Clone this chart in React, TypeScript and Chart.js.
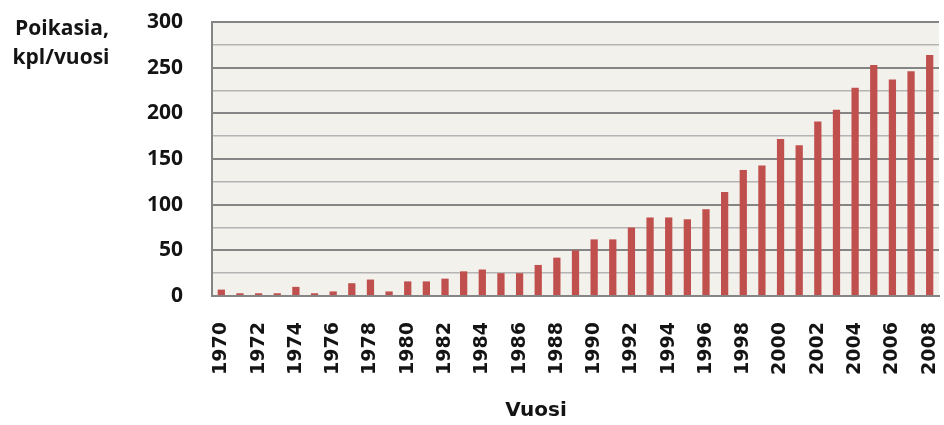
import React, { useEffect, useRef } from "react";
import { Chart, registerables } from "chart.js";

Chart.register(...registerables);

const years: string[] = [
  "1970", "1971", "1972", "1973", "1974", "1975", "1976", "1977", "1978", "1979",
  "1980", "1981", "1982", "1983", "1984", "1985", "1986", "1987", "1988", "1989",
  "1990", "1991", "1992", "1993", "1994", "1995", "1996", "1997", "1998", "1999",
  "2000", "2001", "2002", "2003", "2004", "2005", "2006", "2007", "2008",
];

const poikasia: number[] = [
  7, 3, 3, 3, 10, 3, 5, 14, 18, 5,
  16, 16, 19, 27, 29, 25, 25, 34, 42, 50,
  62, 62, 75, 86, 86, 84, 95, 114, 138, 143,
  172, 165, 191, 204, 228, 253, 237, 246, 264,
];

const yTitleLines: string[] = ["Poikasia,", "kpl/vuosi"];
const xTitle = "Vuosi";

const BAR_COLOR = "#C0504D";
const PLOT_BG = "#F3F1EC";
const MAJOR_GRID = "#858585";
const MINOR_GRID = "#b4b4b4";
const TEXT = "#141414";

export default function App() {
  const ref = useRef<HTMLCanvasElement | null>(null);

  useEffect(() => {
    if (!ref.current) return;

    const bgPlugin = {
      id: "plotBg",
      beforeDraw(chart: any) {
        const { ctx, chartArea } = chart;
        ctx.save();
        ctx.fillStyle = PLOT_BG;
        ctx.fillRect(
          chartArea.left,
          chartArea.top,
          chartArea.right - chartArea.left,
          chartArea.bottom - chartArea.top
        );
        ctx.restore();
      },
    };

    const titlesPlugin = {
      id: "titles",
      afterDraw(chart: any) {
        const { ctx } = chart;
        ctx.save();
        ctx.fillStyle = TEXT;
        ctx.textAlign = "center";
        ctx.textBaseline = "alphabetic";
        ctx.font = "bold 21px 'Open Sans'";
        ctx.fillText(yTitleLines[0], 62, 35);
        ctx.fillText(yTitleLines[1], 61, 64);
        ctx.font = "bold 20px 'DejaVu Sans'";
        ctx.textBaseline = "middle";
        ctx.fillText(xTitle, 536, 411);
        ctx.restore();
      },
    };

    const chart = new Chart(ref.current, {
      type: "bar",
      data: {
        labels: years,
        datasets: [
          {
            data: poikasia,
            backgroundColor: BAR_COLOR,
            borderWidth: 0,
            categoryPercentage: 1,
            barPercentage: 0.39,
          },
        ],
      },
      options: {
        animation: false,
        responsive: false,
        devicePixelRatio: 1,
        layout: { padding: { left: 0, right: 5, top: 22, bottom: 0 } },
        plugins: {
          legend: { display: false },
          tooltip: { enabled: false },
          title: { display: false },
        },
        scales: {
          x: {
            grid: { display: false, drawTicks: false },
            border: { display: true, color: MAJOR_GRID, width: 2 },
            ticks: {
              autoSkip: false,
              minRotation: 90,
              maxRotation: 90,
              padding: 26,
              color: TEXT,
              font: { family: "'DejaVu Sans'", weight: "bold", size: 19 },
              callback: (_v: any, i: number) => (i % 2 === 0 ? years[i] : ""),
            },
            afterFit: (scale: any) => {
              scale.height = 129;
              scale.paddingLeft = 0;
              scale.paddingRight = 0;
            },
          },
          y: {
            min: 0,
            max: 300,
            grid: {
              drawTicks: false,
              lineWidth: (c: any) => (c.tick && c.tick.value % 50 === 0 ? 2 : 1.5),
              color: (c: any) =>
                c.tick && c.tick.value % 50 === 0 ? MAJOR_GRID : MINOR_GRID,
            },
            border: { display: true, color: MAJOR_GRID, width: 2 },
            ticks: {
              stepSize: 25,
              autoSkip: false,
              maxTicksLimit: 20,
              padding: 29,
              color: TEXT,
              font: { family: "'Open Sans'", weight: "bold", size: 21, lineHeight: 1 },
              callback: (v: any) => (Number(v) % 50 === 0 ? String(v) : ""),
            },
            afterFit: (scale: any) => {
              scale.width = 212;
              scale.paddingTop = 0;
              scale.paddingBottom = 0;
            },
          },
        },
      },
      plugins: [bgPlugin, titlesPlugin],
    });

    return () => chart.destroy();
  }, []);

  return (
    <div style={{ position: "absolute", left: 0, top: 0, width: 944, height: 425, background: "#fff" }}>
      <canvas ref={ref} width={944} height={425} style={{ width: 944, height: 425, display: "block" }} />
    </div>
  );
}
